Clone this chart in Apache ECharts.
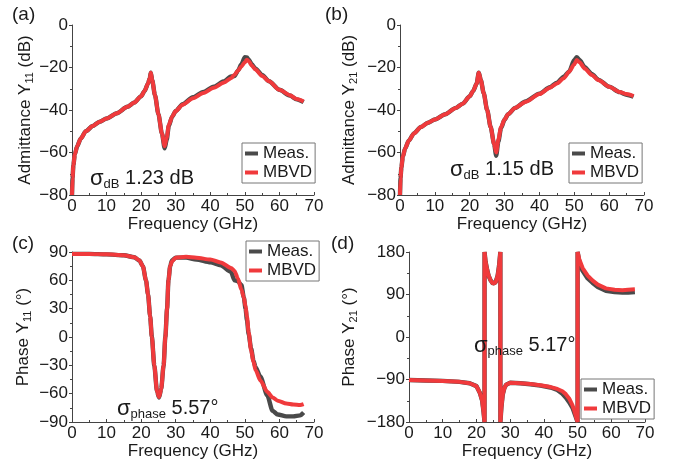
<!DOCTYPE html>
<html><head><meta charset="utf-8">
<script src="https://cdn.jsdelivr.net/npm/echarts@6/dist/echarts.min.js"></script>
<style>html,body{margin:0;padding:0;background:#fff}#c{width:681px;height:468px}</style>
</head><body><div id="c"></div><script>
// ---- data ----
const freqA = [0,0.15,0.4,0.8,1.5,2.5,4,6,8,10,13,16,18,20,21,22,22.5,22.8,23.2,24,25,26,26.8,27.4,28,29,30,32,35,38,41,44,46,47,48,49,50,50.6,51.2,52,53,55,57,60,63,65,67];
const mbvdA = [-80,-72,-66,-61,-57,-53.5,-50,-47.5,-45.5,-44,-41.5,-38.5,-36.5,-33.5,-31,-27.5,-25,-22.5,-26,-33,-42,-51,-57,-53,-47,-43,-40.5,-37.5,-34.5,-32,-29.5,-27,-25,-23.5,-21.5,-19.5,-17.5,-16.3,-17.2,-19,-20.8,-24,-26.5,-30.5,-33,-34.8,-36];
const measA = [-80,-72,-66,-61,-57,-53.5,-50,-47.5,-45.5,-44,-41.5,-38.5,-36.5,-33.5,-31,-27.5,-25,-22.5,-26,-33,-42,-51,-58,-54,-47.5,-43,-40.5,-37.3,-34,-31.5,-29,-26.5,-24.2,-24,-21.5,-18.5,-15.2,-15.3,-16.5,-18.5,-20.5,-23.5,-26.5,-30.5,-33.2,-35,-36.3];

const freqB = [0,0.15,0.4,0.8,1.5,2.5,4,6,8,10,13,16,18,20,21,22,22.6,23.2,24,25,26,27,27.6,28.2,29,30,31,33,36,40,43,45,47,48.5,50,50.7,51.5,53,55,57,60,63,65,67];
const mbvdB = [-80,-72,-67,-62,-58,-54.5,-51,-48,-46,-44.5,-42,-39,-37,-33.5,-31,-27.5,-22.5,-26,-32,-40,-48,-56,-60,-54,-48,-44.5,-42,-39,-36.2,-32.5,-29.5,-27.5,-25,-22,-18.5,-16.5,-17.5,-20.5,-23.5,-26,-29,-31.5,-32.5,-33.5];
const measB = [-80,-72,-67,-62,-58,-54.5,-51,-48,-46,-44.5,-42,-39,-37,-33.5,-31,-27.5,-22.5,-26,-32,-40,-48,-56,-61.5,-55,-48.5,-44.5,-42,-39,-36,-32.3,-29.3,-27.2,-24.3,-22,-16.5,-15.2,-16.5,-19.8,-23,-25.8,-29,-31.6,-32.8,-33.8];

const freqC = [0,5,10,15,18,19.5,20.5,21.4,22,22.6,23.1,23.8,24.6,25.2,25.8,26.5,27,27.5,27.9,28.4,28.9,30,33,36,40,43,46,47,48,49,49.7,50.2,50.6,51.1,51.8,52.5,53.1,54.5,56.5,58,59.5,62,64,66,67];
const mbvdC = [88,88,87.5,86.5,84.5,81,75,60,45,22,0,-30,-58,-63.5,-55,-30,0,30,60,75,80,84,85,84,82,79,73,70,62,50,42,32,22,5,-14,-26,-35,-46,-58,-64,-67.5,-70.5,-71.5,-72,-71];
const measC = [88,88,87.5,86.5,84.5,81,75,60,45,22,0,-30,-58,-64,-55,-30,0,30,60,75,81,84,84,82,79,76,69,60,59,55,42,30,18,3,-12,-25,-32,-42,-62,-78,-82,-84,-84,-83,-80];

const freqD = [0,5,10,15,18,20,21,21.7,22.1,22.4,22.41,22.7,23.1,23.6,24.2,24.9,25.7,26.3,26.7,27.1,27.11,27.4,27.8,28.3,28.8,30,33,36,39,42,44,45.5,46.5,47.5,48.5,49,49.5,50,50.01,50.5,51.5,53,54.4,56,58.4,61,63.3,65,67];
const mbvdD = [-91,-92,-93,-95,-98,-104,-118,-135,-158,-180,180,160,145,130,120,113,116,130,150,180,-180,-150,-122,-108,-101,-97,-98,-99.5,-102,-106,-110,-115,-121,-130,-145,-155,-168,-180,180,165,146,130,120,111,103,100,99,100,101];
const measD = [-91,-92,-93,-95,-98,-104,-118,-135,-158,-180,180,160,145,130,120,113,116,130,150,180,-180,-150,-122,-108,-101,-97,-98,-100,-103,-107,-112,-120,-128,-138,-150,-160,-170,-180,180,160,140,124,115,106,98,95,94,94,95];

const seriesNames = ['Meas.', 'MBVD'];
const panelLabels = ['(a)', '(b)', '(c)', '(d)'];
const sigmaTexts = [['dB', '1.23 dB'], ['dB', '1.15 dB'], ['phase', '5.57°'], ['phase', '5.17°']];
const yNames = ['Admittance Y{s|11} (dB)', 'Admittance Y{s|21} (dB)', 'Phase Y{s|11} (°)', 'Phase Y{s|21} (°)'];
const yRanges = [[-80, 0, 20], [-80, 0, 20], [-90, 90, 30], [-180, 180, 90]];
const xRange = [0, 70, 10];

// ---- chart ----
const FONT = '"Liberation Sans", Arial, sans-serif';
const AX = '#444', TXT = '#1a1a1a';
const GRAY = '#4a4a4a', RED = '#f03a3c';
const grids = [
  {left: 72, top: 25, width: 242, height: 170},
  {left: 400, top: 25, width: 244, height: 170},
  {left: 72, top: 252, width: 242, height: 170},
  {left: 409, top: 252, width: 236, height: 170}
];
const nameGaps = [37, 41, 39, 50];
const pairs = (x, y) => x.map((v, i) => [v, y[i]]);
const fmt = v => String(v).replace('-', '\u2212');

const xAxes = grids.map((g, i) => ({
  type: 'value', gridIndex: i, min: xRange[0], max: xRange[1], interval: xRange[2],
  axisLine: {show: true, onZero: false, lineStyle: {color: AX, width: 1}},
  axisTick: {show: true, inside: true, length: 3, lineStyle: {color: AX}},
  minorTick: {show: true, splitNumber: 2, length: 2, lineStyle: {color: AX}},
  splitLine: {show: false},
  axisLabel: {fontSize: 17, color: TXT, margin: 3, fontFamily: FONT, formatter: fmt},
  name: 'Frequency (GHz)', nameLocation: 'middle', nameGap: 20,
  nameTextStyle: {fontSize: 17, color: TXT, fontFamily: FONT}
}));
const yAxes = grids.map((g, i) => ({
  type: 'value', gridIndex: i, min: yRanges[i][0], max: yRanges[i][1], interval: yRanges[i][2],
  axisLine: {show: true, onZero: false, lineStyle: {color: AX, width: 1}},
  axisTick: {show: true, inside: false, length: 3, lineStyle: {color: AX}},
  minorTick: {show: true, splitNumber: 2, length: 2, lineStyle: {color: AX}},
  splitLine: {show: false},
  axisLabel: {fontSize: 17, color: TXT, margin: 4, fontFamily: FONT, formatter: fmt},
  name: yNames[i], nameLocation: 'middle', nameGap: nameGaps[i], nameRotate: 90,
  nameTextStyle: {fontSize: 17, color: TXT, fontFamily: FONT,
    rich: {s: {fontSize: 11, color: TXT, fontFamily: FONT, padding: [9, 0, 0, 0], verticalAlign: 'bottom'}}}
}));

const data = [[freqA, measA, mbvdA], [freqB, measB, mbvdB], [freqC, measC, mbvdC], [freqD, measD, mbvdD]];
const series = [];
data.forEach((d, i) => {
  const smooth = i < 3 ? 0.25 : false;
  series.push({type: 'line', name: seriesNames[0], xAxisIndex: i, yAxisIndex: i, data: pairs(d[0], d[1]),
    showSymbol: false, symbol: 'none', smooth: smooth, smoothMonotone: 'x', color: GRAY,
    lineStyle: {color: GRAY, width: 4.4}, z: 2});
  series.push({type: 'line', name: seriesNames[1], xAxisIndex: i, yAxisIndex: i, data: pairs(d[0], d[2]),
    showSymbol: false, symbol: 'none', smooth: smooth, smoothMonotone: 'x', color: RED,
    lineStyle: {color: RED, width: 4}, z: 3});
});

const legendPos = [[242, 143], [569, 143], [246, 241], [581, 379]];
const legends = legendPos.map(p => ({
  data: seriesNames, left: p[0], top: p[1], orient: 'vertical', selectedMode: false,
  icon: 'rect', itemWidth: 13, itemHeight: 4, itemGap: 2,
  padding: [2, 3, 2, 3], borderColor: '#777', borderWidth: 1, backgroundColor: '#fff',
  textStyle: {fontSize: 17, color: TXT, fontFamily: FONT}
}));

const labelPos = [[12, 5], [325, 5], [12, 234], [331, 234]];
const sigmaPos = [[90, 166], [450, 157], [117, 396], [474, 333]];
const graphic = [];
panelLabels.forEach((t, i) => graphic.push({type: 'text', left: labelPos[i][0], top: labelPos[i][1],
  style: {text: t, font: '19px ' + FONT, fill: TXT}}));
sigmaTexts.forEach((s, i) => graphic.push({type: 'text', x: sigmaPos[i][0], y: sigmaPos[i][1], z: 10,
  style: {text: '{g|σ}{s|' + s[0] + '}{m| ' + s[1] + '}', fill: TXT,
    rich: {
      g: {fontSize: 22, fontFamily: FONT, fill: TXT, color: TXT},
      s: {fontSize: 13, fontFamily: FONT, fill: TXT, color: TXT, padding: [12, 0, 0, 0], verticalAlign: 'bottom'},
      m: {fontSize: 20, fontFamily: FONT, fill: TXT, color: TXT}
    }}}));

const chart = echarts.init(document.getElementById('c'));
chart.setOption({
  animation: false,
  backgroundColor: '#fff',
  grid: grids,
  xAxis: xAxes,
  yAxis: yAxes,
  legend: legends,
  series: series,
  graphic: graphic
});
</script></body></html>
